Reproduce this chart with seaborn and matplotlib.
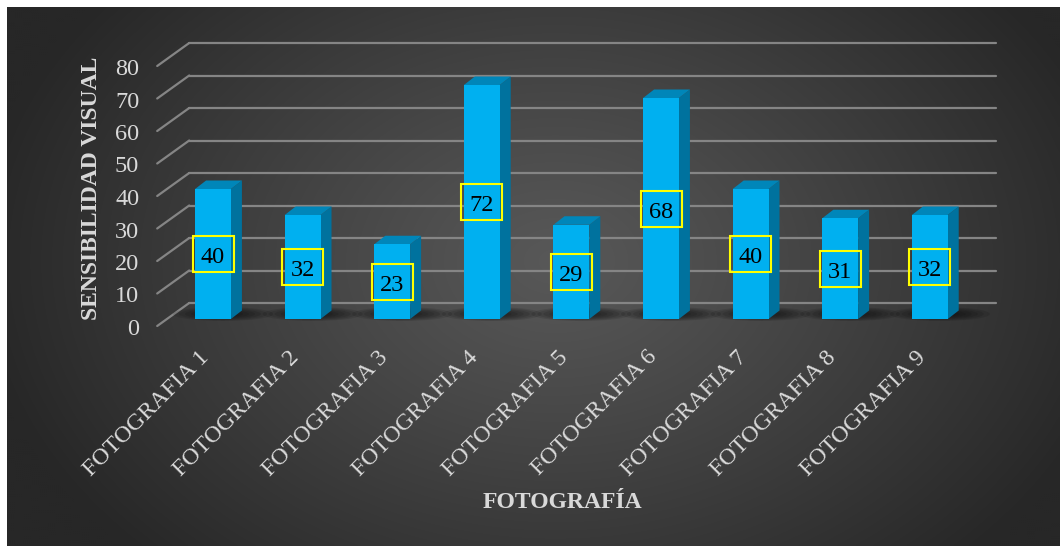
import numpy as np
import matplotlib
matplotlib.use("Agg")
import matplotlib.pyplot as plt
import seaborn as sns
import pandas as pd
from matplotlib.patches import Polygon, Rectangle, Ellipse
from matplotlib.lines import Line2D
from matplotlib.transforms import IdentityTransform

# ---- data -------------------------------------------------------------
categories = ["FOTOGRAFIA 1", "FOTOGRAFIA 2", "FOTOGRAFIA 3", "FOTOGRAFIA 4",
              "FOTOGRAFIA 5", "FOTOGRAFIA 6", "FOTOGRAFIA 7", "FOTOGRAFIA 8",
              "FOTOGRAFIA 9"]
values = [40, 32, 23, 72, 29, 68, 40, 31, 32]
y_ticks = [0, 10, 20, 30, 40, 50, 60, 70, 80]
x_title = "FOTOGRAFÍA"
y_title = "SENSIBILIDAD VISUAL"

# ---- canvas -----------------------------------------------------------
W, H, DPI = 1060, 546, 100
sns.set_theme(style="white")
plt.rcParams["font.family"] = ["Liberation Serif", "DejaVu Serif"]

TXT = "#d9d9d9"
FRONT = "#00B0F0"
SIDE = "#00729E"
TOP = "#0086B9"
GRID = "#858585"

fig = plt.figure(figsize=(W / DPI, H / DPI), dpi=DPI, facecolor="white")

# dark radial backdrop
PX0, PY0 = 7, 7
bg = fig.add_axes([PX0 / W, 0, (W - PX0) / W, (H - PY0) / H], zorder=0)
ny, nx = 270, 527
yy, xx = np.mgrid[0:ny, 0:nx]
cx, cy = nx * 0.52, ny * 0.47
r = np.sqrt(((xx - cx) / (nx * 0.55)) ** 2 + ((yy - cy) / (ny * 0.78)) ** 2)
r = np.clip(r, 0, 1) ** 1.1
c_in, c_out = 0x58 / 255, 0x27 / 255
shade = c_in + (c_out - c_in) * r
bg.imshow(np.dstack([shade] * 3), aspect="auto", interpolation="bicubic",
          extent=(0, 1, 0, 1))
bg.set_axis_off()

# ---- main axes (plane of the bar fronts) ------------------------------
X_L, X_R = 168.2, 974.6          # pixel extent of category range
Y0, Y80 = 319, 59                 # pixel rows of 0 and 80
ax = fig.add_axes([X_L / W, (H - Y0) / H, (X_R - X_L) / W, (Y0 - Y80) / H],
                  zorder=1)
ax.set_facecolor("none")

df = pd.DataFrame({"foto": categories, "valor": values})
sns.barplot(data=df, x="foto", y="valor", color=FRONT, saturation=1,
            width=0.4, linewidth=0, ax=ax, zorder=4)

ax.set_xlim(-0.5, len(categories) - 0.5)
ax.set_ylim(y_ticks[0], y_ticks[-1])
ax.set_autoscale_on(False)
for s in ax.spines.values():
    s.set_visible(False)
ax.set_yticks(y_ticks)
ax.set_yticklabels([])
ax.set_xticks(range(len(categories)))
ax.set_xticklabels([])
ax.tick_params(length=0)
ax.grid(False)

ident = IdentityTransform()

def disp(x, y):
    return ax.transData.transform((x, y))

# depth offsets in pixels (display y points up)
FRONT_D = (-11, -7)
BACK_D = (21, 16)
BAR_D = (11, 8.5)

# gridlines on the back wall, diagonals on the left and value ticks
x_first, x_last = -0.5, len(categories) - 0.5
for v in y_ticks:
    x0, y0 = disp(x_first, v)
    x1, _ = disp(x_last, v)
    ax.add_line(Line2D([x0 + BACK_D[0], x1 + BACK_D[0]],
                       [y0 + BACK_D[1], y0 + BACK_D[1]], color=GRID, lw=1.6,
                       transform=ident, clip_on=False, zorder=1))
    ax.add_line(Line2D([x0 + FRONT_D[0], x0 + BACK_D[0]],
                       [y0 + FRONT_D[1], y0 + BACK_D[1]], color=GRID, lw=1.6,
                       transform=ident, clip_on=False, zorder=1))
    ax.text(x0 - 29, y0 - 16, str(v), transform=ident, ha="right",
            va="baseline", fontsize=17.5, color=TXT, clip_on=False)

# category labels, slanted
for i, name in enumerate(categories):
    xc, yc = disp(i, 0)
    ax.text(xc - 7, yc - 35, name, transform=ident, rotation=45,
            rotation_mode="anchor", ha="right", va="center", fontsize=17.2,
            color=TXT, clip_on=False)

# 3-D faces, soft floor shadows and value boxes for each bar
for bar, v in zip(ax.patches, values):
    (xl, yb), (xr, yt) = ax.transData.transform(
        [(bar.get_x(), bar.get_y()), (bar.get_x() + bar.get_width(),
                                      bar.get_y() + bar.get_height())])
    dx, dy = BAR_D
    for k in range(6):
        ax.add_patch(Ellipse(((xl + xr) / 2 + 10, yb + 5),
                             100 - k * 12, 14 - k * 1.6, facecolor="black",
                             alpha=0.10, lw=0, transform=ident,
                             clip_on=False, zorder=2))
    ax.add_patch(Polygon([(xr, yb), (xr, yt), (xr + dx, yt + dy),
                          (xr + dx, yb + dy)], closed=True, facecolor=SIDE,
                         lw=0, transform=ident, clip_on=False, zorder=3))
    ax.add_patch(Polygon([(xl, yt), (xr, yt), (xr + dx, yt + dy),
                          (xl + dx, yt + dy)], closed=True, facecolor=TOP,
                         lw=0, transform=ident, clip_on=False, zorder=3))
    cxp, cyp = disp(bar.get_x() + bar.get_width() / 2, v / 2)
    ax.add_patch(Rectangle((cxp - 20.5, cyp - 18), 41, 36, facecolor="none",
                           edgecolor="#FFFF00", lw=1.5, transform=ident,
                           clip_on=False, zorder=6))
    ax.text(cxp, cyp - 9, str(v), transform=ident, ha="center",
            va="baseline", fontsize=17.5, color="black", zorder=7)

# axis titles
ax.set_xlabel(x_title, fontsize=17, fontweight="bold", color=TXT, va="center")
ax.xaxis.set_label_coords((562 - X_L) / (X_R - X_L), (Y0 - 503) / (Y0 - Y80))
ax.set_ylabel(y_title, fontsize=17, fontweight="bold", color=TXT,
              va="center", ha="center")
ax.yaxis.set_label_coords((92 - X_L) / (X_R - X_L), (Y0 - 188.5) / (Y0 - Y80))

fig.savefig("out.png", dpi=DPI, facecolor=fig.get_facecolor())
